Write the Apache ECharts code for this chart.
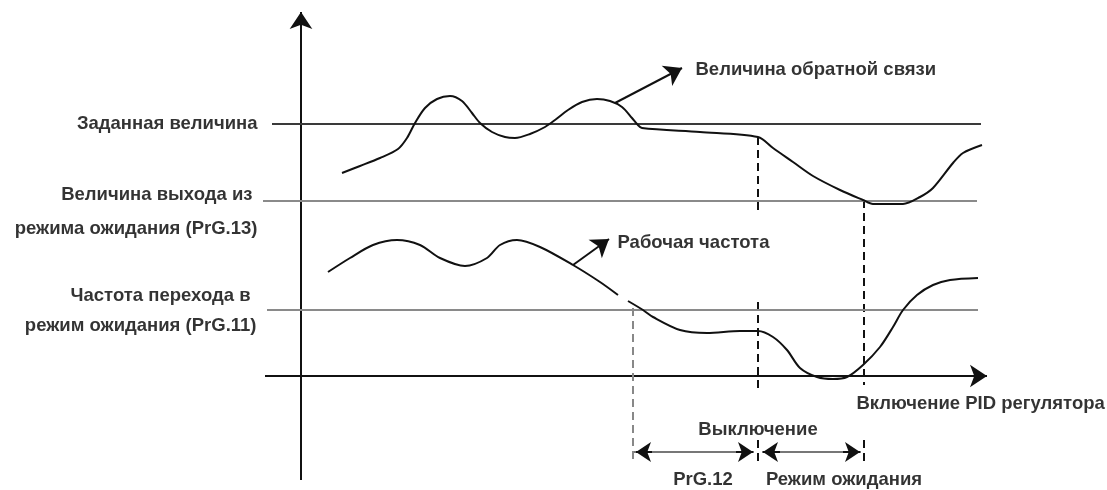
<!DOCTYPE html>
<html><head><meta charset="utf-8">
<script src="https://cdn.jsdelivr.net/npm/echarts@6/dist/echarts.min.js"></script>
<style>html,body{margin:0;padding:0;background:#fff}#c{width:1107px;height:490px}</style>
</head><body><div id="c"></div>
<script>
// Feedback value (upper trace): [time, level]
const feedback = [[342,317],[360,324],[380,332],[398,341],[407,352],[415,367],[425,382],[437,391],[450,394],[462,389],[472,377],[480,367],[492,358],[505,353],[515,352],[530,356],[545,363],[555,370],[568,380],[582,388],[597,391],[610,389],[622,383],[632,372],[637,366],[642,362],[700,358],[758,353],[773,342],[793,328],[813,314],[840,300],[863,290],[873,286],[903,286],[920,293],[933,302],[953,327],[963,337],[982,345]];
// Operating frequency (lower trace): [time, level]; null = small break in the trace
const frequency = [[328,218],[350,232],[373,245],[397,250],[420,245],[440,232],[465,224],[487,232],[500,245],[517,250],[540,243],[573,225],[600,208],[618,195],null,[628,189],[643,180],[653,173],[680,160],[707,157],[740,159],[758,159],[773,153],[787,140],[800,122],[817,113],[833,111],[847,113],[863,125],[880,143],[893,163],[903,180],[917,195],[933,205],[950,210],[978,212]];
// Reference levels: [level, tStart, tEnd]
const setpoint = [366, 272, 981];
const wakeLevel = [289, 263, 977];
const sleepFreq = [180, 267, 978];
// Key instants
const tSleepStart = 633, tOff = 758, tPidOn = 864;
// Text
const leftLabels = ['Заданная величина','Величина выхода из','режима ожидания (PrG.13)','Частота перехода в','режим ожидания (PrG.11)'];
const curveLabels = ['Величина обратной связи','Рабочая частота'];
const eventLabels = ['Включение PID регулятора','Выключение','PrG.12','Режим ожидания'];

const FONT = {fontFamily:'Liberation Sans, Arial, sans-serif', fontWeight:'bold', fontSize:18.5, color:'#000'};
function txt(t, v, text, pos) {
  return {value:[t, v], label:{show:true, position:pos, distance:0, formatter:text, ...FONT}};
}
function hline(arr, color) {
  return {type:'line', symbol:'none', silent:true, data:[[arr[1],arr[0]],[arr[2],arr[0]]], lineStyle:{color:color, width:2}};
}
const dash = [8,5];
const chart = echarts.init(document.getElementById('c'), null, {renderer:'canvas'});
chart.setOption({
  animation:false,
  grid:{left:0,right:0,top:0,bottom:0},
  xAxis:{type:'value',min:0,max:1107,show:false},
  yAxis:{type:'value',min:0,max:490,show:false},
  series:[
    hline(setpoint,'#3a3a3a'),
    hline(wakeLevel,'#8a8a8a'),
    hline(sleepFreq,'#8a8a8a'),
    {type:'lines', coordinateSystem:'cartesian2d', silent:true, symbol:['none','arrow'], symbolSize:[0,17],
     lineStyle:{color:'#111', width:2, opacity:1},
     data:[
       {coords:[[301,10],[301,478]]},
       {coords:[[265,114],[987,114]]},
       {coords:[[615,387],[682,422]]},
       {coords:[[573,225],[609,251]]}
     ]},
    {type:'lines', coordinateSystem:'cartesian2d', silent:true, symbol:'none',
     lineStyle:{color:'#777', width:2, opacity:1},
     data:[
       {coords:[[633,38],[754,38]]},
       {coords:[[762,38],[861,38]]}
     ]},
    {type:'lines', coordinateSystem:'cartesian2d', silent:true, symbol:['none','arrow'], symbolSize:[0,15],
     lineStyle:{color:'#111', width:2, opacity:1},
     data:[
       {coords:[[652,38],[636,38]]},
       {coords:[[736,38],[753,38]]},
       {coords:[[780,38],[763,38]]},
       {coords:[[843,38],[860,38]]}
     ]},
    {type:'lines', coordinateSystem:'cartesian2d', silent:true, symbol:'none',
     lineStyle:{color:'#888', width:2, type:dash, opacity:1},
     data:[{coords:[[tSleepStart,182],[tSleepStart,30]]}]},
    {type:'lines', coordinateSystem:'cartesian2d', silent:true, symbol:'none',
     lineStyle:{color:'#111', width:2, type:dash, opacity:1},
     data:[
       {coords:[[tOff,353],[tOff,275]]},
       {coords:[[tOff,188],[tOff,98]]},
       {coords:[[tOff,50],[tOff,28]]},
       {coords:[[tPidOn,290],[tPidOn,105]]},
       {coords:[[tPidOn,50],[tPidOn,28]]}
     ]},
    {type:'line', symbol:'none', smooth:0.3, silent:true, data:feedback, lineStyle:{color:'#111', width:2}},
    {type:'line', symbol:'none', smooth:0.3, silent:true, connectNulls:false, data:frequency, lineStyle:{color:'#111', width:2}},
    {type:'scatter', symbolSize:1, silent:true, itemStyle:{color:'rgba(0,0,0,0)'},
     data:[
       txt(258,366,leftLabels[0],'left'),
       txt(253,295,leftLabels[1],'left'),
       txt(258,261,leftLabels[2],'left'),
       txt(251,194,leftLabels[3],'left'),
       txt(257,164,leftLabels[4],'left'),
       txt(695,420,curveLabels[0],'right'),
       txt(617,247,curveLabels[1],'right'),
       txt(856,86,eventLabels[0],'right'),
       txt(758,60,eventLabels[1],'inside'),
       txt(703,10,eventLabels[2],'inside'),
       txt(844,10,eventLabels[3],'inside')
     ]}
  ]
});
</script></body></html>
